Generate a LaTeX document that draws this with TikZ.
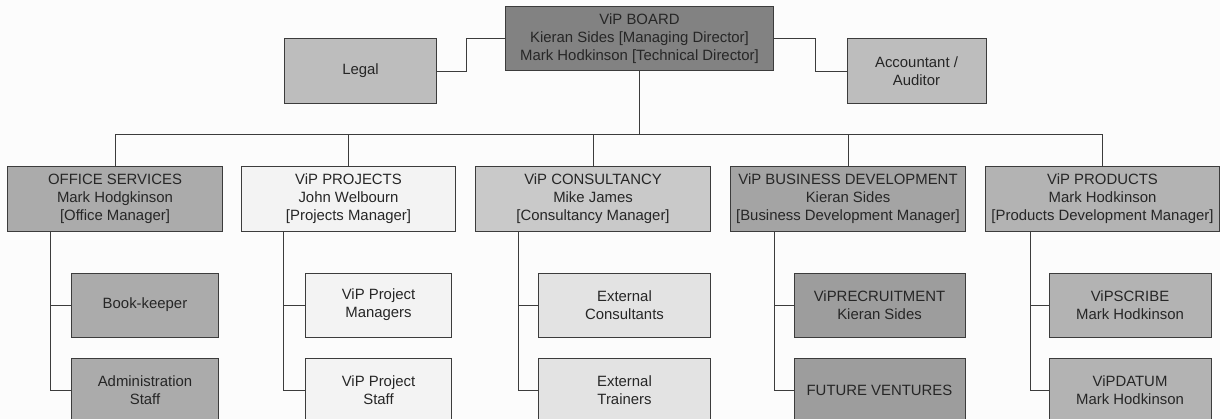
\documentclass[tikz,border=0pt]{standalone}
\usepackage{fontspec}
\setmainfont{Liberation Sans}
\usetikzlibrary{positioning,calc}
\definecolor{linegray}{HTML}{3C3C3C}
\definecolor{boardgray}{HTML}{828282}
\definecolor{sidegray}{HTML}{BDBDBD}
\definecolor{officegray}{HTML}{ABABAB}
\definecolor{projgray}{HTML}{F3F3F3}
\definecolor{consgray}{HTML}{C9C9C9}
\definecolor{extgray}{HTML}{E3E3E3}
\definecolor{bizgray}{HTML}{A4A4A4}
\definecolor{venturegray}{HTML}{9D9D9D}
\definecolor{prodgray}{HTML}{B3B3B3}
\tikzset{
    orgbox/.style={draw=linegray, line width=0.7pt, align=center, inner sep=1pt,
        font=\fontsize{10.6}{12.8}\selectfont, text=black!85, minimum height=1.6cm},
    orgline/.style={draw=linegray, line width=0.7pt}
}

\begin{document}
\begin{tikzpicture}[x=0.025cm, y=-0.025cm]
\clip (0,0) rectangle (1220,419);
\fill[white!99!black] (0,0) rectangle (1220,419);
% top level
\node[orgbox, fill=boardgray, minimum width=6.675cm, minimum height=1.575cm] (board) at (639.5,38.5)
    {ViP BOARD\\Kieran Sides [Managing Director]\\Mark Hodkinson [Technical Director]};
\node[orgbox, fill=sidegray, minimum width=3.775cm] (legal) at (360.5,71) {Legal};
\node[orgbox, fill=sidegray, minimum width=3.475cm] (acct) at (916.5,71) {Accountant /\\Auditor};
% departments
\node[orgbox, fill=officegray, minimum width=5.35cm] (office) at (115,199)
    {OFFICE SERVICES\\Mark Hodgkinson\\{[Office Manager]}};
\node[orgbox, fill=projgray, minimum width=5.325cm] (proj) at (348.5,199)
    {ViP PROJECTS\\John Welbourn\\{[Projects Manager]}};
\node[orgbox, fill=consgray, minimum width=5.85cm] (cons) at (593,199)
    {ViP CONSULTANCY\\Mike James\\{[Consultancy Manager]}};
\node[orgbox, fill=bizgray, minimum width=5.85cm] (biz) at (848,199)
    {ViP BUSINESS DEVELOPMENT\\Kieran Sides\\{[Business Development Manager]}};
\node[orgbox, fill=prodgray, minimum width=5.825cm] (prod) at (1102.5,199)
    {ViP PRODUCTS\\Mark Hodkinson\\{[Products Development Manager]}};
% sub units
\node[orgbox, fill=officegray, minimum width=3.65cm] (book) at (145,305) {Book-keeper};
\node[orgbox, fill=officegray, minimum width=3.65cm] (admin) at (145,390) {Administration\\Staff};
\node[orgbox, fill=projgray, minimum width=3.625cm] (pman) at (378.5,305) {ViP Project\\Managers};
\node[orgbox, fill=projgray, minimum width=3.625cm] (pstaff) at (378.5,390) {ViP Project\\Staff};
\node[orgbox, fill=extgray, minimum width=4.275cm] (extc) at (624.5,305) {External\\Consultants};
\node[orgbox, fill=extgray, minimum width=4.275cm] (extt) at (624.5,390) {External\\Trainers};
\node[orgbox, fill=venturegray, minimum width=4.275cm] (recr) at (879.5,305) {ViPRECRUITMENT\\Kieran Sides};
\node[orgbox, fill=venturegray, minimum width=4.275cm] (fut) at (879.5,390) {FUTURE VENTURES};
\node[orgbox, fill=prodgray, minimum width=4.05cm] (scribe) at (1130,305) {ViPSCRIBE\\Mark Hodkinson};
\node[orgbox, fill=prodgray, minimum width=4.05cm] (datum) at (1130,390) {ViPDATUM\\Mark Hodkinson};
% connectors
\draw[orgline] (board.west) -- ++(-39,0) |- (legal.east);
\draw[orgline] (board.east) -- ++(42,0) |- (acct.west);
\coordinate (bus) at ($(board.south)+(0,64)$);
\draw[orgline] (board.south) -- (bus);
\foreach \d in {office,proj,cons,biz,prod}
    \draw[orgline] (bus) -| (\d.north);
\coordinate (ofT) at ($(office.south west)+(43,0)$);
\coordinate (prT) at ($(proj.south west)+(42,0)$);
\coordinate (coT) at ($(cons.south west)+(43,0)$);
\coordinate (biT) at ($(biz.south west)+(44,0)$);
\coordinate (pdT) at ($(prod.south west)+(45,0)$);
\draw[orgline] (ofT) |- (book.west) (ofT) |- (admin.west);
\draw[orgline] (prT) |- (pman.west) (prT) |- (pstaff.west);
\draw[orgline] (coT) |- (extc.west) (coT) |- (extt.west);
\draw[orgline] (biT) |- (recr.west) (biT) |- (fut.west);
\draw[orgline] (pdT) |- (scribe.west) (pdT) |- (datum.west);
\end{tikzpicture}
\end{document}
